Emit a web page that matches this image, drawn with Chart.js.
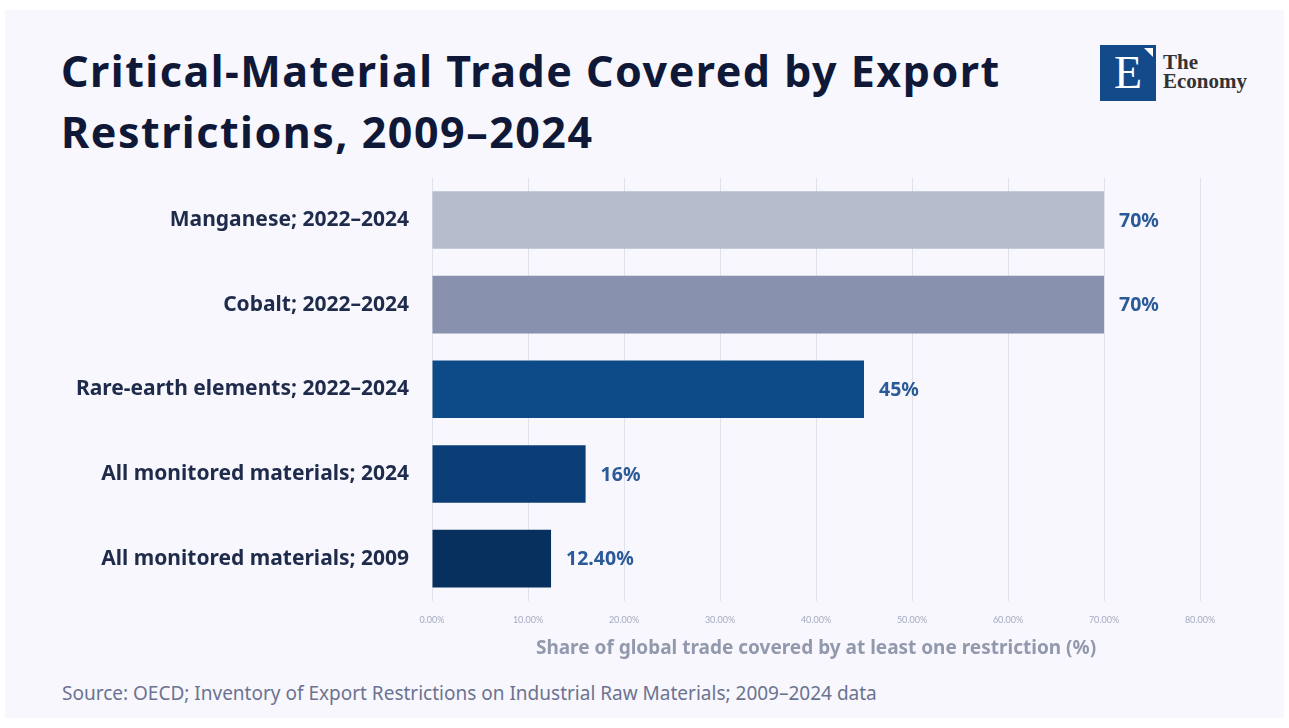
<!DOCTYPE html>
<html>
<head>
<meta charset="utf-8">
<script src="https://cdn.jsdelivr.net/npm/chart.js@4.4.1/dist/chart.umd.min.js"></script>
<style>
  html, body { margin: 0; padding: 0; background: #ffffff; }
  body { width: 1289px; height: 728px; position: relative; overflow: hidden; font-family: "Noto Sans", Lato, sans-serif; }
  #card { position: absolute; left: 5px; top: 10px; width: 1279px; height: 708px; background: #f7f7fd; }
  h1 { position: absolute; left: 61px; top: 40px; margin: 0; font-size: 43px; line-height: 61px; font-weight: bold; color: #101838; letter-spacing: 1.5px; }
  #logo { position: absolute; left: 1100px; top: 45px; width: 56px; height: 56px; background: #134a8a; }
  #logo .e { position: absolute; left: 0; top: 4px; width: 56px; text-align: center; font-family: "Liberation Serif", "DejaVu Serif", serif; font-size: 46px; line-height: 48px; color: #ffffff; }
  #logo .tri { position: absolute; right: 3px; top: 3px; width: 0; height: 0; border-left: 9px solid transparent; border-top: 9px solid #ffffff; }
  #brand { position: absolute; left: 1163px; top: 53px; font-family: "Liberation Serif", "DejaVu Serif", serif; font-weight: bold; font-size: 21px; line-height: 19px; color: #333333; }
  #source { position: absolute; left: 62px; top: 680px; font-size: 19px; color: #6b7391; }
  #wrap { position: absolute; left: 0; top: 150px; width: 1289px; height: 515px; }
</style>
</head>
<body>
<div id="card"></div>
<h1>Critical-Material Trade Covered by Export<br>Restrictions, 2009–2024</h1>
<div id="logo"><div class="e">E</div><div class="tri"></div></div>
<div id="brand">The<br>Economy</div>
<div id="wrap"><canvas id="chart"></canvas></div>
<div id="source">Source: OECD; Inventory of Export Restrictions on Industrial Raw Materials; 2009–2024 data</div>

<script>
var categories = [
    "Manganese; 2022–2024",
    "Cobalt; 2022–2024",
    "Rare-earth elements; 2022–2024",
    "All monitored materials; 2024",
    "All monitored materials; 2009"
];
var shares = [70, 70, 45, 16, 12.4];
var valueLabels = ["70%", "70%", "45%", "16%", "12.40%"];
var barColors = ["#b6bccc", "#8891ad", "#0d4b88", "#0b3e77", "#08305e"];
var axisTicks = [0, 10, 20, 30, 40, 50, 60, 70, 80];

var FONT = "'Noto Sans', Lato, sans-serif";

// writes the value text just past the end of each bar
var valueText = {
    id: 'valueText',
    afterDatasetsDraw: function(chart) {
        var ctx = chart.ctx;
        var meta = chart.getDatasetMeta(0);
        ctx.save();
        ctx.font = "bold 19.5px " + FONT;
        ctx.fillStyle = "#2a5a97";
        ctx.textAlign = "left";
        ctx.textBaseline = "middle";
        meta.data.forEach(function(bar, i) {
            ctx.fillText(valueLabels[i], bar.x + 15, bar.y + 1);
        });
        ctx.restore();
    }
};

var ctx = document.getElementById('chart');
new Chart(ctx, {
    type: 'bar',
    data: {
        labels: categories,
        datasets: [{
            data: shares,
            backgroundColor: barColors,
            categoryPercentage: 1,
            barPercentage: 0.68
        }]
    },
    plugins: [valueText],
    options: {
        indexAxis: 'y',
        responsive: true,
        maintainAspectRatio: false,
        animation: false,
        layout: { padding: { top: 1, right: 89, left: 0, bottom: 0 } },
        plugins: {
            legend: { display: false },
            tooltip: { enabled: false }
        },
        scales: {
            x: {
                min: 0,
                max: 80,
                afterBuildTicks: function(axis) {
                    axis.ticks = axisTicks.map(function(v) { return { value: v }; });
                },
                afterFit: function(axis) { axis.height = 64; },
                grid: { color: "#dfe2ea", lineWidth: 1, drawTicks: false },
                border: { display: false },
                ticks: {
                    padding: 14,
                    color: "#a3abc0",
                    font: { size: 9, family: "Lato, 'Noto Sans', sans-serif" },
                    callback: function(v) { return v.toFixed(2) + "%"; }
                },
                title: {
                    display: true,
                    text: "Share of global trade covered by at least one restriction (%)",
                    color: "#9299ad",
                    font: { size: 19, weight: 'bold', family: FONT },
                    padding: { top: 4, bottom: 5 }
                }
            },
            y: {
                afterFit: function(axis) { axis.width = 432; },
                grid: { display: false },
                border: { display: false },
                ticks: {
                    padding: 15,
                    color: "#1f2b4b",
                    font: { size: 21, weight: 'bold', family: FONT }
                }
            }
        }
    }
});
</script>
</body>
</html>
